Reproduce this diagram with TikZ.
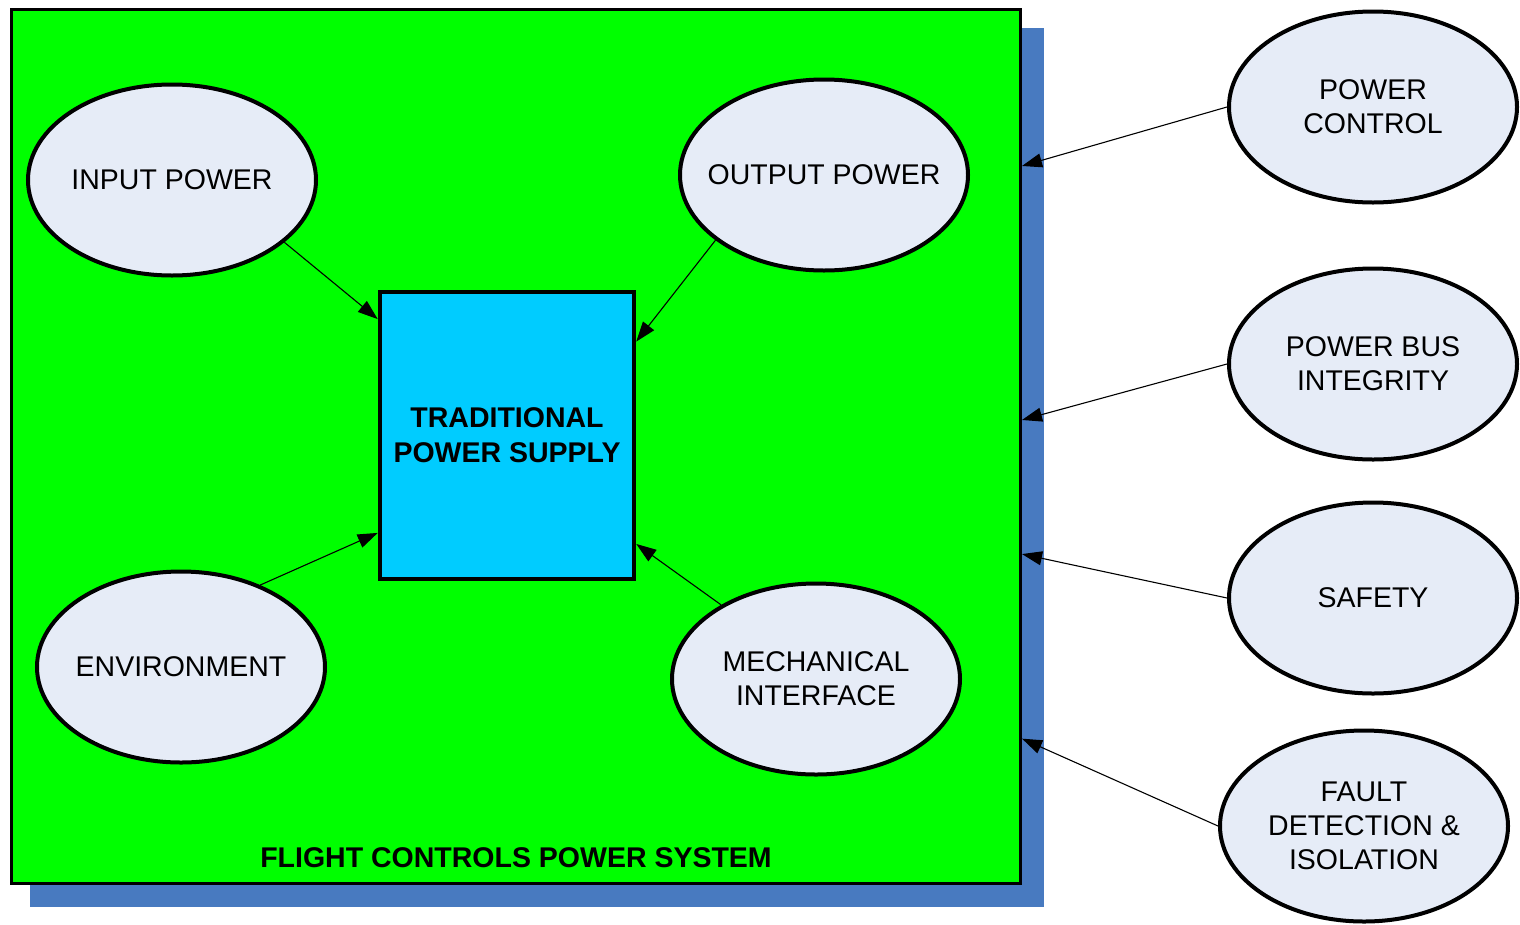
\documentclass[tikz,border=0pt]{standalone}
\usepackage{fontspec}
\setmainfont{Liberation Sans}
\usetikzlibrary{shapes.geometric,arrows.meta,backgrounds}
\definecolor{sysgreen}{RGB}{0,255,0}
\definecolor{psblue}{RGB}{0,204,255}
\definecolor{shadowblue}{RGB}{72,122,192}
\definecolor{bubble}{RGB}{230,236,247}
\tikzset{
  bubble/.style={ellipse, draw=black, line width=4pt, fill=bubble,
    minimum width=288pt, minimum height=191pt, inner sep=-30pt,
    align=center, font=\fontsize{28.5}{34}\selectfont},
  arr/.style={line width=1.1pt, -{Triangle[length=20pt,width=14pt]}},
}
\begin{document}
\begin{tikzpicture}[x=1pt,y=-1pt]
\useasboundingbox (0,0) rectangle (1520,924);
% system boundary and the central supply block
\node[draw=black, line width=3pt, fill=sysgreen, minimum width=1009pt,
  minimum height=874pt, inner sep=0pt] (fcps) at (516,446.5) {};
\node[draw=black, line width=4.5pt, fill=psblue, minimum width=254pt,
  minimum height=287pt, inner sep=0pt, align=center,
  font=\fontsize{28.5}{35}\selectfont\bfseries] (tps) at (507,435.5)
  {TRADITIONAL\\POWER SUPPLY};
\node[font=\fontsize{28.5}{34}\selectfont\bfseries] (title) at (516,858)
  {FLIGHT CONTROLS POWER SYSTEM};
% drop shadows
\begin{scope}[on background layer]
  \fill[shadowblue] ([shift={(20,20)}]fcps.north west) rectangle ([shift={(22,22)}]fcps.south east);
  \fill[shadowblue] ([shift={(20,20)}]tps.north west) rectangle ([shift={(23,23)}]tps.south east);
\end{scope}
% inner elements
\node[bubble] (inp) at (172,180) {INPUT POWER};
\node[bubble] (outp) at (824,175) {OUTPUT POWER};
\node[bubble] (env) at (181,667) {ENVIRONMENT};
\node[bubble] (mech) at (816,679) {MECHANICAL\\INTERFACE};
% outer requirements
\node[bubble] (pctl) at (1373,107) {POWER\\CONTROL};
\node[bubble] (pbus) at (1373,364) {POWER BUS\\INTEGRITY};
\node[bubble] (safe) at (1373,598) {SAFETY};
\node[bubble] (fdi) at (1364,826) {FAULT\\DETECTION \&\\ISOLATION};
% connectors
\draw[arr] (inp.-29.5) -- (tps.138.7);
\draw[arr] (outp.211.7) -- (tps.36.7);
\draw[arr] (env.46.4) -- (tps.-143.2);
\draw[arr] (mech.142.8) -- (tps.-40.9);
\draw[arr] (pctl.west) -- (fcps.29.9);
\draw[arr] (pbus.west) -- (fcps.3.9);
\draw[arr] (safe.west) -- (fcps.-12.1);
\draw[arr] (fdi.west) -- (fcps.-30.2);
\end{tikzpicture}
\end{document}
